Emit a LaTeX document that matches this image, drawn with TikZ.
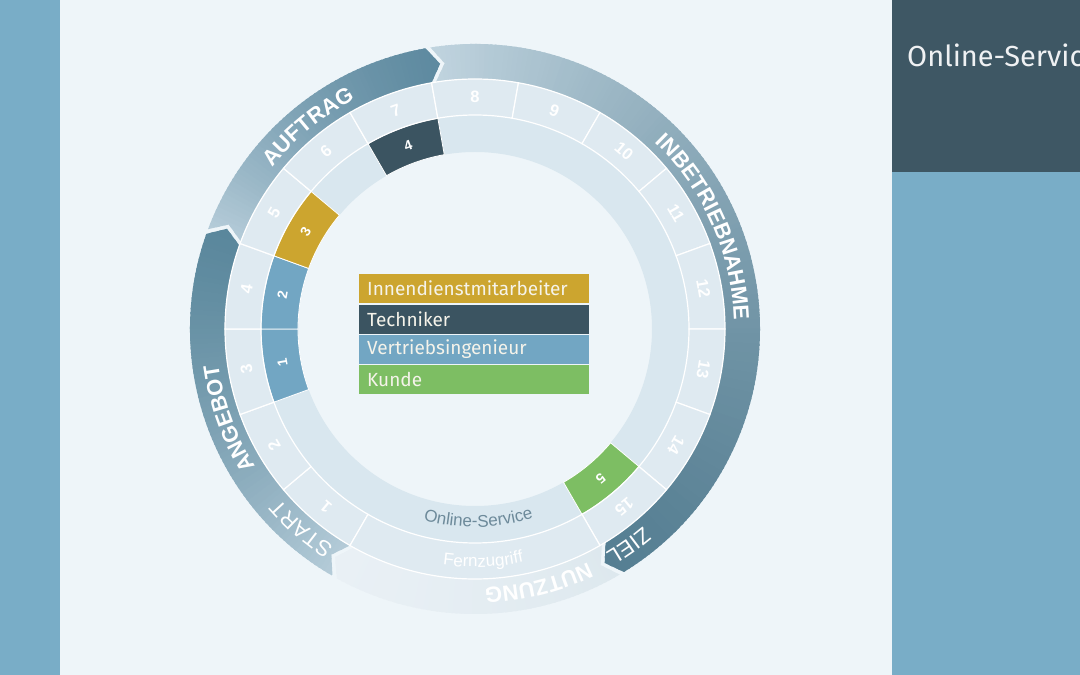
\documentclass[tikz,border=0pt]{standalone}
\usepackage{fontspec}
\setmainfont{Liberation Sans}
\newfontfamily\firafont{Fira Sans}
\usetikzlibrary{positioning, decorations.text}

\definecolor{pagebg}{HTML}{EEF5F9}
\definecolor{sidebar}{HTML}{79ADC7}
\definecolor{slate}{HTML}{3E5764}
\definecolor{goldseg}{HTML}{CCA52F}
\definecolor{darkseg}{HTML}{3B5461}
\definecolor{blueseg}{HTML}{72A6C3}
\definecolor{greenseg}{HTML}{7DBE63}
\definecolor{innerring}{HTML}{D9E7EF}
\definecolor{midring}{HTML}{DFEAF1}
\definecolor{servicegrey}{HTML}{6D8A9A}
\definecolor{legendtext}{HTML}{F5F3EA}
\definecolor{startlight}{HTML}{B4CBD8}
\definecolor{angebotdark}{HTML}{5A879C}
\definecolor{auftragdark}{HTML}{5E8AA0}
\definecolor{betriebLight}{HTML}{BFD3DE}
\definecolor{zieldark}{HTML}{557E92}
\definecolor{nutzlight}{HTML}{DDE8EE}
\definecolor{nutzfade}{HTML}{E9F0F5}

\newcommand{\bandbold}{\fontsize{22}{22}\bfseries\selectfont}
\newcommand{\bandthin}{\fontsize{22}{22}\selectfont}
\newcommand{\ringfont}{\fontsize{17}{17}\selectfont}
\newcommand{\numfont}{\fontsize{16.5}{16.5}\bfseries\selectfont}
\newcommand{\smallnumfont}{\fontsize{14}{14}\bfseries\selectfont}
\newcommand{\legendfont}{\firafont\fontsize{19}{19}\selectfont}
\newcommand{\headfont}{\firafont\fontsize{29}{29}\selectfont}

\newcommand{\rin}{250}
\newcommand{\rout}{285}
\newcommand{\rmid}{267.5}

% annular sector: from angle #1 to #2, radii #3 (inner) and #4 (outer)
\newcommand{\sector}[4]{(#1:#4) arc[start angle=#1, end angle=#2, radius=#4]
  -- (#2:#3) arc[start angle=#2, end angle=#1, radius=#3] -- cycle}

% arrow band: tail angle #1, head angle #2, tail colour #3, head colour #4
\newcommand{\arrowband}[4]{%
  \begin{scope}
    \clip (#1:\rout) arc[start angle=#1, end angle=#2, radius=\rout]
      -- ({#2-2.5}:\rmid) -- (#2:\rin)
      arc[start angle=#2, end angle=#1, radius=\rin]
      -- ({#1-2.5}:\rmid) -- cycle;
    \pgfmathtruncatemacro\nslice{#1-#2+3}
    \foreach \i in {0,...,\nslice}{
      \pgfmathsetmacro\a{#1-\i}
      \pgfmathsetmacro\f{min(1,\i/(#1-#2))}
      \pgfmathtruncatemacro\pct{100*\f*(1.5-0.5*\f)}
      \fill[#4!\pct!#3] (0,0) -- (\a:300) -- ({\a-1.4}:300) -- cycle;
    }
  \end{scope}}

\begin{document}
\begin{tikzpicture}[x=1pt, y=1pt]
  \tikzstyle{segnum} = [text=white, font=\numfont, inner sep=0pt]
  \tikzstyle{innernum} = [text=white, font=\smallnumfont, inner sep=0pt]
  \tikzstyle{ringsector} = [fill=midring, draw=white, line width=1.2pt]
  \tikzstyle{bandtext} = [decorate, decoration={text along path,
    text align=center, text color=white}]
  \tikzstyle{legend} = [anchor=north west, text width=214pt, align=left,
    inner xsep=8pt, inner ysep=0pt, minimum height=29pt, font=\legendfont,
    text=legendtext]

  \useasboundingbox (0,0) rectangle (1080,675);
  \fill[pagebg] (0,0) rectangle (1080,675);
  \fill[sidebar] (0,0) rectangle (60,675);
  \fill[sidebar] (892,0) rectangle (1080,675);
  \fill[slate] (892,503) rectangle (1080,675);
  \begin{scope}
    \clip (892,503) rectangle (1080,675);
    \node[anchor=base west, font=\headfont, text=white!92!slate, inner sep=0pt]
      (panel) at (907,608) {Online-Service};
  \end{scope}

  \begin{scope}[shift={(475,346)}]
    % phase arrows
    \arrowband{240}{160.5}{startlight}{angebotdark}
    \arrowband{159.5}{100}{startlight}{auftragdark}
    \arrowband{99}{-58.5}{betriebLight}{zieldark}
    \arrowband{-59.5}{-119}{nutzlight}{nutzfade}

    % inner ring with roles
    \fill[innerring, even odd rule] (0,0) circle[radius=214] (0,0) circle[radius=177];
    \foreach \c/\col/\n in {190/blueseg/1, 170/blueseg/2, 150/goldseg/3,
                            110/darkseg/4, 310/greenseg/5}{
      \fill[\col, draw=white, line width=0.8pt] \sector{\c+10}{\c-10}{177}{214};
      \node[innernum, rotate=\c-90] (inner\n) at (\c:195.5) {\n};
    }

    % middle ring with steps
    \foreach \n in {1,...,15}{
      \fill[ringsector] \sector{260-20*\n}{240-20*\n}{214}{250};
      \node[segnum, rotate=160-20*\n] (step\n) at (250-20*\n:232) {\n};
    }
    \fill[ringsector] \sector{240}{300}{214}{250};

    \path[bandtext, decoration={text={|\bandthin|START}}]
      (259:259) arc[start angle=259, end angle=199, radius=259];
    \path[bandtext, decoration={text={|\bandbold|ANGEBOT}}]
      (230:259) arc[start angle=230, end angle=170, radius=259];
    \path[bandtext, decoration={text={|\bandbold|AUFTRAG}}]
      (159.5:259) arc[start angle=159.5, end angle=99.5, radius=259];
    \path[bandtext, decoration={text={|\bandbold|INBETRIEBNAHME}}]
      (60:259) arc[start angle=60, end angle=-12, radius=259];
    \path[bandtext, decoration={text={|\bandthin|ZIEL}}]
      (-24.7:259) arc[start angle=-24.7, end angle=-84.7, radius=259];
    \path[bandtext, decoration={text={|\bandbold|NUTZUNG}}]
      (314:259) arc[start angle=314, end angle=254, radius=259];
    \path[decorate, decoration={text along path, text align=center,
        text color=servicegrey, text={|\ringfont|Online-Service}}]
      (241:198) arc[start angle=241, end angle=301, radius=198];
    \path[decorate, decoration={text along path, text align=center,
        text color=white, text={|\ringfont|Fernzugriff}}]
      (242:238) arc[start angle=242, end angle=302, radius=238];
  \end{scope}

  \node[legend, fill=goldseg] (innendienst) at (359,401) {Innendienstmitarbeiter};
  \node[legend, fill=darkseg, below=1pt of innendienst] (techniker) {Techniker};
  \node[legend, fill=blueseg, below=1pt of techniker] (vertrieb) {Vertriebsingenieur};
  \node[legend, fill=greenseg, below=1pt of vertrieb] (kunde) {Kunde};
\end{tikzpicture}
\end{document}
